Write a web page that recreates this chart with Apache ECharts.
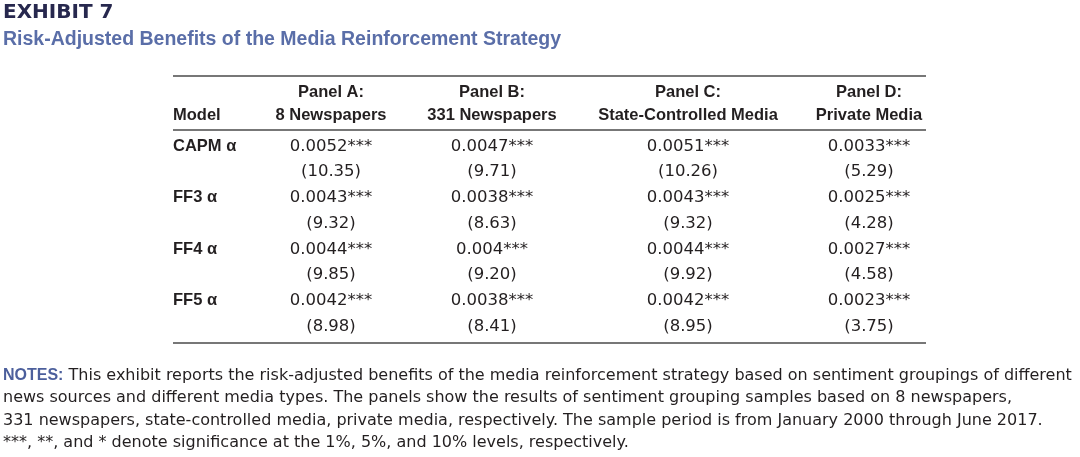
<!DOCTYPE html>
<html><head><meta charset="utf-8">
<script src="https://cdn.jsdelivr.net/npm/echarts/dist/echarts.min.js"></script>
<style>html,body{margin:0;padding:0;background:#fff}#c{width:1080px;height:457px}</style>
</head><body><div id="c"></div>
<script>
// ---- data ----
const models = ['CAPM α', 'FF3 α', 'FF4 α', 'FF5 α'];
const panelTitles = ['Panel A:', 'Panel B:', 'Panel C:', 'Panel D:'];
const panelNames = ['8 Newspapers', '331 Newspapers', 'State-Controlled Media', 'Private Media'];
const coefA = [0.0052, 0.0043, 0.0044, 0.0042];
const coefB = [0.0047, 0.0038, 0.004, 0.0038];
const coefC = [0.0051, 0.0043, 0.0044, 0.0042];
const coefD = [0.0033, 0.0025, 0.0027, 0.0023];
const tA = [10.35, 9.32, 9.85, 8.98];
const tB = [9.71, 8.63, 9.20, 8.41];
const tC = [10.26, 9.32, 9.92, 8.95];
const tD = [5.29, 4.28, 4.58, 3.75];
const sigA = ['***', '***', '***', '***'];
const sigB = ['***', '***', '***', '***'];
const sigC = ['***', '***', '***', '***'];
const sigD = ['***', '***', '***', '***'];
const titleText = 'EXHIBIT 7';
const subtitleText = 'Risk-Adjusted Benefits of the Media Reinforcement Strategy';
const notesLines = [
  'This exhibit reports the risk-adjusted benefits of the media reinforcement strategy based on sentiment groupings of different',
  'news sources and different media types. The panels show the results of sentiment grouping samples based on 8 newspapers,',
  '331 newspapers, state-controlled media, private media, respectively. The sample period is from January 2000 through June 2017.',
  '***, **, and * denote significance at the 1%, 5%, and 10% levels, respectively.'
];

// ---- layout ----
const colX = [173, 331, 492, 688, 869];
const ruleLeft = 173, ruleRight = 926;
const ink = '#231f20';

const rowKeys = [];
models.forEach((m, i) => { rowKeys.push('a' + i); rowKeys.push('t' + i); });

const panels = [
  { coef: coefA, t: tA, sig: sigA },
  { coef: coefB, t: tB, sig: sigB },
  { coef: coefC, t: tC, sig: sigC },
  { coef: coefD, t: tD, sig: sigD }
];

const series = [];
series.push({
  type: 'scatter', symbolSize: 0, silent: true, itemStyle: { opacity: 1 },
  data: models.map((m, i) => [colX[0], 'a' + i, m]),
  label: { show: true, position: [0, 0], align: 'left', verticalAlign: 'middle',
    formatter: p => p.value[2], fontFamily: 'Liberation Sans', fontWeight: 'bold', fontSize: 16.5, color: ink }
});
panels.forEach((pn, k) => {
  const d = [];
  pn.coef.forEach((c, i) => {
    d.push([colX[k + 1], 'a' + i, String(c) + pn.sig[i]]);
    d.push([colX[k + 1], 't' + i, '(' + pn.t[i].toFixed(2) + ')']);
  });
  series.push({
    type: 'scatter', symbolSize: 0, silent: true, itemStyle: { opacity: 1 }, data: d,
    label: { show: true, position: [0, 0], align: 'center', verticalAlign: 'middle',
      formatter: p => p.value[2], fontFamily: 'DejaVu Sans', fontSize: 16.5, color: ink }
  });
});

const graphics = [];
graphics.push({ type: 'text', x: 3, y: 13, style: { text: titleText, font: 'bold 20px "DejaVu Sans"', fill: '#27284e', textVerticalAlign: 'middle' } });
graphics.push({ type: 'text', x: 3, y: 40, style: { text: subtitleText, font: 'bold 19.5px "Liberation Sans"', fill: '#5a6ea8', textVerticalAlign: 'middle' } });
[76, 130, 343].forEach(y => graphics.push({ type: 'line', shape: { x1: ruleLeft, y1: y, x2: ruleRight, y2: y }, style: { stroke: '#4a4a4a', lineWidth: 1.5 } }));
graphics.push({ type: 'text', x: colX[0], y: 115, style: { text: 'Model', font: 'bold 16.5px "Liberation Sans"', fill: ink, textAlign: 'left', textVerticalAlign: 'middle' } });
panelTitles.forEach((t, k) => {
  graphics.push({ type: 'text', x: colX[k + 1], y: 92, style: { text: t, font: 'bold 16.5px "Liberation Sans"', fill: ink, textAlign: 'center', textVerticalAlign: 'middle' } });
  graphics.push({ type: 'text', x: colX[k + 1], y: 115, style: { text: panelNames[k], font: 'bold 16.5px "Liberation Sans"', fill: ink, textAlign: 'center', textVerticalAlign: 'middle' } });
});
notesLines.forEach((ln, i) => {
  graphics.push({ type: 'text', x: 3, y: 376 + i * 22.2, style: {
    text: i === 0 ? '{n|NOTES:} ' + ln : ln,
    rich: { n: { font: 'bold 16px "Liberation Sans"', fill: '#4c5f9c' } },
    font: '16px "DejaVu Sans"', fill: ink, textVerticalAlign: 'middle' } });
});

const chart = echarts.init(document.getElementById('c'), null, { renderer: 'canvas' });
chart.setOption({
  backgroundColor: '#fff',
  animation: false,
  grid: { left: 0, right: 0, top: 133.6, bottom: 117.6 },
  xAxis: { type: 'value', min: 0, max: 1080, show: false },
  yAxis: { type: 'category', data: rowKeys, inverse: true, show: false },
  series: series,
  graphic: graphics
});
</script></body></html>
